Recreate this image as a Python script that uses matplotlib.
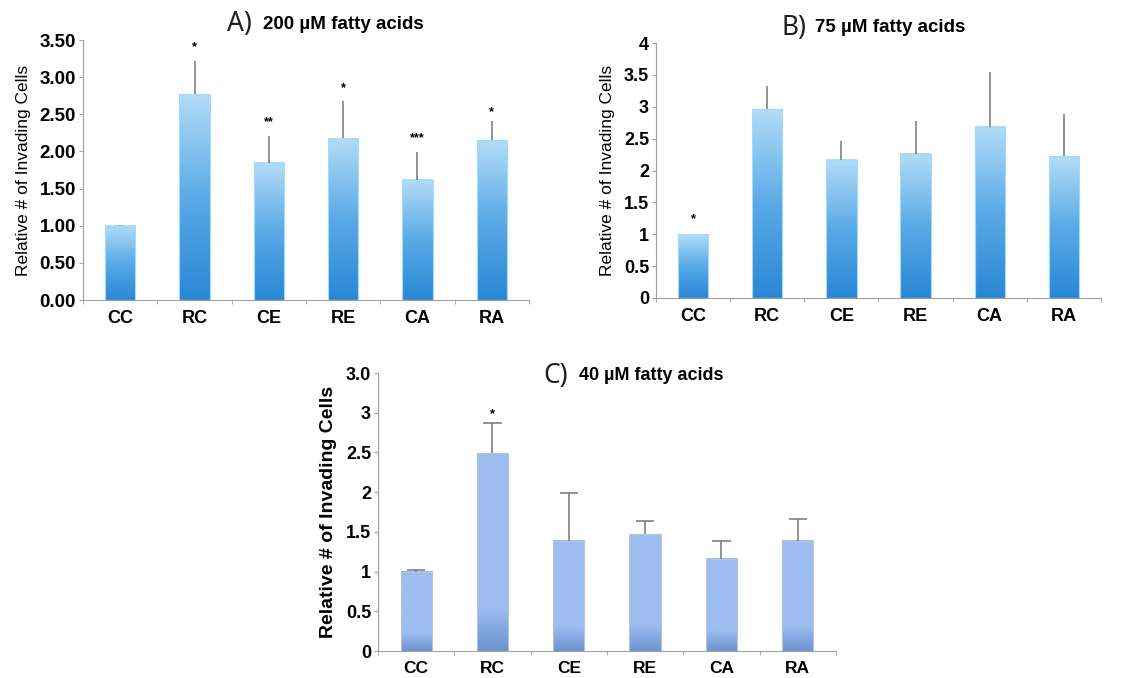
import numpy as np
import matplotlib
matplotlib.use("Agg")
import matplotlib.pyplot as plt
from matplotlib.colors import LinearSegmentedColormap

plt.rcParams['font.family'] = ['Liberation Sans', 'DejaVu Sans']

groups = ['CC', 'RC', 'CE', 'RE', 'CA', 'RA']

# A) 200 uM
vals_a = [1.00, 2.77, 1.85, 2.18, 1.62, 2.15]
err_a = [0.01, 0.45, 0.36, 0.50, 0.37, 0.26]
stars_a = ['', '*', '**', '*', '***', '*']
star_y_a = [0, 3.40, 2.39, 2.85, 2.18, 2.53]

# B) 75 uM
vals_b = [1.00, 2.96, 2.17, 2.26, 2.69, 2.22]
err_b = [0.01, 0.37, 0.30, 0.51, 0.85, 0.66]
stars_b = ['*', '', '', '', '', '']
star_y_b = [1.24, 0, 0, 0, 0, 0]

# C) 40 uM
vals_c = [1.00, 2.49, 1.39, 1.47, 1.16, 1.39]
err_c = [0.015, 0.38, 0.60, 0.17, 0.23, 0.27]
stars_c = ['', '*', '', '', '', '']
star_y_c = [0, 2.98, 0, 0, 0, 0]

ticks_a = ['0.00', '0.50', '1.00', '1.50', '2.00', '2.50', '3.00', '3.50']
ticks_b = ['0', '0.5', '1', '1.5', '2', '2.5', '3', '3.5', '4']
ticks_c = ['0', '0.5', '1', '1.5', '2', '2.5', '3', '3.0']

grad_ab = LinearSegmentedColormap.from_list('ab', ['#2a87d6', '#5aaae6', '#b3dcf8'])
grad_c = LinearSegmentedColormap.from_list(
    'c', [(0, '#6a93cf'), (0.12, '#86a9e2'), (0.22, '#9dbcf0'), (1, '#9dbcf0')])

fig = plt.figure(figsize=(11.42, 6.78), dpi=100)


def panel(rect, vals, err, stars, star_y, ticks, letter, title, tpos, cmap,
          tick_size, xt_size, ylab_size, ylab_bold, title_size, capsize, edge):
    ax = fig.add_axes(rect)
    x = np.arange(len(groups))
    bars = ax.bar(x, vals, width=0.41, color='none', edgecolor=edge, linewidth=0.8, zorder=3)
    grad = np.linspace(0, 1, 256).reshape(-1, 1)
    for b in bars:
        ax.imshow(grad, extent=(b.get_x(), b.get_x() + b.get_width(), 0, b.get_height()),
                  origin='lower', aspect='auto', cmap=cmap, zorder=2)
    # upper half error bars only
    tops = np.array(vals) + np.array(err)
    ax.vlines(x, vals, tops, color='#808080', linewidth=1.2, zorder=4)
    if capsize:
        ax.hlines(tops, x - capsize, x + capsize, color='#808080', linewidth=1.2, zorder=4)
    for xi, s, sy in zip(x, stars, star_y):
        if s:
            ax.text(xi, sy, s, ha='center', va='center', fontsize=9, fontweight='bold')
    yt = np.arange(len(ticks)) * 0.5
    ax.set_xlim(-0.5, len(groups) - 0.5)
    ax.set_ylim(0, yt[-1])
    ax.set_yticks(yt)
    ax.set_yticklabels(ticks, fontsize=tick_size, fontweight='bold')
    ax.set_xticks(x)
    ax.set_xticklabels(groups, fontsize=xt_size, fontweight='bold')
    ax.set_xticks(np.arange(len(groups) + 1) - 0.5, minor=True)
    ax.tick_params(axis='x', which='major', length=0, pad=7)
    ax.tick_params(axis='x', which='minor', length=3, color='#a0a0a0')
    ax.tick_params(axis='y', length=3, color='#a0a0a0', pad=2)
    for s in ['top', 'right']:
        ax.spines[s].set_visible(False)
    for s in ['left', 'bottom']:
        ax.spines[s].set_color('#a0a0a0')
    ax.set_ylabel('Relative # of Invading Cells', fontsize=ylab_size,
                  fontweight='bold' if ylab_bold else 'normal', labelpad=6)
    ax.text(tpos[0], tpos[2], letter, transform=ax.transAxes, ha='left', va='center',
            fontsize=19, family=['Noto Sans', 'DejaVu Sans'], color='#202020')
    ax.text(tpos[1], tpos[2], title, transform=ax.transAxes, ha='left', va='center',
            fontsize=title_size, fontweight='bold')
    return ax


panel([0.0727, 0.5575, 0.3905, 0.3835], vals_a, err_a, stars_a, star_y_a, ticks_a,
      'A)', '200 µM fatty acids', (0.322, 0.404, 1.06), grad_ab,
      13.5, 13, 12.5, False, 13.5, 0, '#9fdcf8')
panel([0.5744, 0.5605, 0.3897, 0.376], vals_b, err_b, stars_b, star_y_b, ticks_b,
      'B)', '75 µM fatty acids', (0.283, 0.357, 1.06), grad_ab,
      13, 13, 12.5, False, 13.5, 0, '#9fdcf8')
panel([0.331, 0.0398, 0.401, 0.410], vals_c, err_c, stars_c, star_y_c, ticks_c,
      'C)', '40 µM fatty acids', (0.362, 0.439, 0.99), grad_c,
      13, 12.5, 14, True, 13, 0.12, '#b8c4d0')

fig.savefig('out.png', dpi=100)
